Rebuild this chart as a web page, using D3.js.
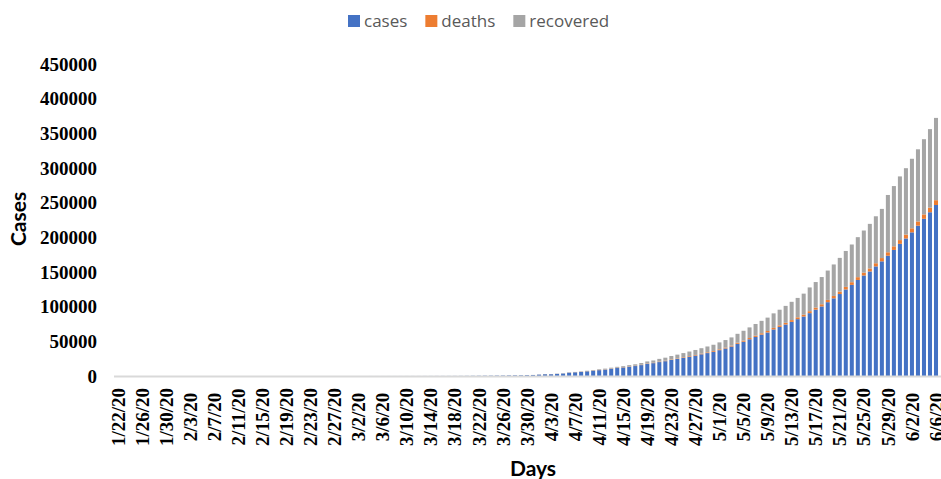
<!DOCTYPE html>
<html>
<head>
<meta charset="utf-8">
<script src="https://cdn.jsdelivr.net/npm/d3@7"></script>
<style>
  html, body { margin: 0; padding: 0; background: #fff; }
  svg { display: block; }
</style>
</head>
<body>
<svg id="chart" width="941" height="479"></svg>
<script>
// ---------------- DATA ----------------
const startDate = "2020-01-22";
const endDate = "2020-06-07"; // exclusive
const seriesNames = ["cases", "deaths", "recovered"];
const seriesColors = ["#4472C4", "#ED7D31", "#A5A5A5"];
const yTicks = [0, 50000, 100000, 150000, 200000, 250000, 300000, 350000, 400000, 450000];

const cases = [
  0,0,0,0,0,0,0,0,1,1,
  1,2,3,3,3,3,3,3,3,3,3,3,3,3,3,3,3,3,3,3,3,3,3,3,3,3,3,3,3,
  3,5,5,28,30,31,34,39,43,56,62,73,82,102,113,119,142,156,194,244,330,396,499,536,657,727,887,987,1024,1251,1397,
  1998,2543,2567,3082,3588,4778,5311,5916,6725,7598,8446,9205,10453,11487,12322,13430,14352,15722,17615,18539,
  20080,21370,23077,24530,26283,27890,29451,31324,33062,34863,
  37257,39699,42505,46437,49400,52987,56351,59695,62808,67161,70768,74292,78055,81997,85784,90648,95698,100328,
  106475,112028,118226,124794,131423,138536,144950,150793,158086,165386,173491,181827,190609,
  198370,207191,216824,226713,236184,246622
];
const deaths = [
  0,0,0,0,0,0,0,0,0,0,
  0,0,0,0,0,0,0,0,0,0,0,0,0,0,0,0,0,0,0,0,0,0,0,0,0,0,0,0,0,
  0,0,0,0,0,0,0,0,0,0,0,1,2,2,2,2,3,3,4,5,4,7,10,10,12,20,20,24,27,32,35,
  58,72,72,86,99,136,150,178,226,246,288,331,358,393,405,448,486,521,559,592,
  645,681,721,780,825,881,939,1008,1079,1154,
  1223,1323,1391,1566,1693,1785,1889,1985,2101,2212,2294,2415,2551,2649,2753,2871,3025,3156,
  3302,3434,3584,3726,3868,4024,4172,4344,4534,4711,4980,5185,5408,
  5608,5829,6088,6363,6649,6946
];
const recovered = [
  0,0,0,0,0,0,0,0,0,0,
  0,0,0,0,0,0,0,0,0,0,0,0,0,3,3,3,3,3,3,3,3,3,3,3,3,3,3,3,3,
  3,3,3,3,3,3,3,3,3,3,3,3,4,10,13,13,14,14,15,20,23,27,27,40,43,45,73,84,95,102,123,
  148,191,192,229,229,375,421,506,620,774,969,1080,1181,1359,1432,1768,2041,2463,2854,3273,
  3975,4370,5012,5498,5939,6523,7137,7747,8437,9068,
  10007,10819,11775,12847,14142,15331,16776,17887,19301,20969,22549,24420,26400,27969,30258,34224,36795,39233,
  42309,45422,48553,51824,54385,57692,60706,64277,67749,70920,82627,86936,91852,
  95754,100285,104071,108450,113233,118695
];

// ---------------- BUILD ----------------
const fmt = d3.timeFormat("%-m/%-d/%y");
const parse = d3.timeParse("%Y-%m-%d");
const dates = d3.timeDay.range(parse(startDate), parse(endDate)).map(fmt);

const rows = dates.map((d, i) => ({ date: d, cases: cases[i], deaths: deaths[i], recovered: recovered[i] }));
const stack = d3.stack().keys(seriesNames)(rows);

const svg = d3.select("#chart");

const x = d3.scaleBand().domain(dates).range([114, 940]).padding(0.33);
const y = d3.scaleLinear().domain([0, 450000]).range([376, 64]);

// bars
svg.append("g").selectAll("g")
  .data(stack)
  .join("g")
  .attr("fill", (d, i) => seriesColors[i])
  .selectAll("rect")
  .data(d => d)
  .join("rect")
  .attr("x", d => x(d.data.date))
  .attr("width", x.bandwidth())
  .attr("y", d => y(d[1]))
  .attr("height", d => Math.max(0, y(d[0]) - y(d[1])));

// x axis line
svg.append("line")
  .attr("x1", 114).attr("x2", 941)
  .attr("y1", y(0) + 0.5).attr("y2", y(0) + 0.5)
  .attr("stroke", "#d9d9d9").attr("stroke-width", 2);

// y tick labels
svg.append("g").selectAll("text")
  .data(yTicks)
  .join("text")
  .attr("x", 97)
  .attr("y", d => y(d))
  .attr("dy", "0.35em")
  .attr("text-anchor", "end")
  .style("font-family", "'Liberation Serif', 'Times New Roman', serif")
  .style("font-weight", "bold")
  .style("font-size", "19px")
  .attr("fill", "#000")
  .text(d => d);

// x tick labels (every 4th day)
const xLabels = dates.filter((d, i) => i % 4 === 0);
svg.append("g").selectAll("text")
  .data(xLabels)
  .join("text")
  .attr("transform", d => `translate(${x(d) + x.bandwidth() / 2},417) rotate(-90)`)
  .attr("text-anchor", "middle")
  .attr("dy", "0.35em")
  .style("font-family", "'Liberation Serif', 'Times New Roman', serif")
  .style("font-weight", "bold")
  .style("font-size", "19px")
  .attr("fill", "#000")
  .text(d => d);

// axis titles
svg.append("text")
  .attr("x", 533).attr("y", 476)
  .attr("text-anchor", "middle")
  .style("font-family", "Lato, 'Open Sans', sans-serif")
  .style("font-weight", "bold")
  .style("font-size", "21px")
  .attr("fill", "#000")
  .text("Days");

svg.append("text")
  .attr("transform", "translate(26,219) rotate(-90)")
  .attr("text-anchor", "middle")
  .style("font-family", "Lato, 'Open Sans', sans-serif")
  .style("font-weight", "bold")
  .style("font-size", "21px")
  .attr("fill", "#000")
  .text("Cases");

// legend
const legend = svg.append("g");
let lx = 348;
seriesNames.forEach((name, i) => {
  legend.append("rect")
    .attr("x", lx).attr("y", 15).attr("width", 12).attr("height", 12)
    .attr("fill", seriesColors[i]);
  const t = legend.append("text")
    .attr("x", lx + 16).attr("y", 27)
    .style("font-family", "'Open Sans', sans-serif")
    .style("font-size", "17px")
    .attr("fill", "#595959")
    .text(name);
  lx += 16 + t.node().getComputedTextLength() + 18;
});
</script>
</body>
</html>
